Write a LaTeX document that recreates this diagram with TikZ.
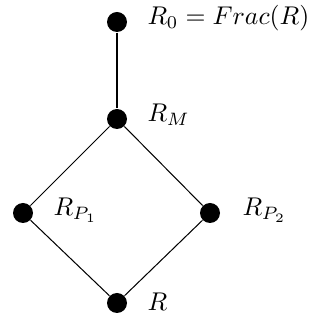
\documentclass[tikz,border=0pt]{standalone}
\begin{document}
\begin{tikzpicture}[x=0.39pt,y=-0.39pt,
  dot/.style={circle,fill=black,inner sep=0pt,minimum size=7.8pt},
  lbl/.style={anchor=base west,inner sep=0pt,font=\fontsize{10.25}{12}\selectfont},
  edge/.style={line width=0.4pt}]
\useasboundingbox (0,0) rectangle (323,321);
\node[dot] (top) at (117,22) {};
\node[dot] (m) at (117,119) {};
\node[dot] (p1) at (23,213) {};
\node[dot] (p2) at (210,213) {};
\node[dot] (r) at (117,303) {};
\draw[edge] (top) -- (m);
\draw[edge] (m) -- (p1);
\draw[edge] (m) -- (p2);
\draw[edge] (p1) -- (r);
\draw[edge] (p2) -- (r);
\node[lbl] (ltop) at (147,25) {$R_0 = Frac(R)$};
\node[lbl] (lm) at (147,122) {$R_M$};
\node[lbl] (lp1) at (53,216) {$R_{P_1}$};
\node[lbl] (lp2) at (242,216) {$R_{P_2}$};
\node[lbl] (lr) at (147,311) {$R$};
\end{tikzpicture}
\end{document}
